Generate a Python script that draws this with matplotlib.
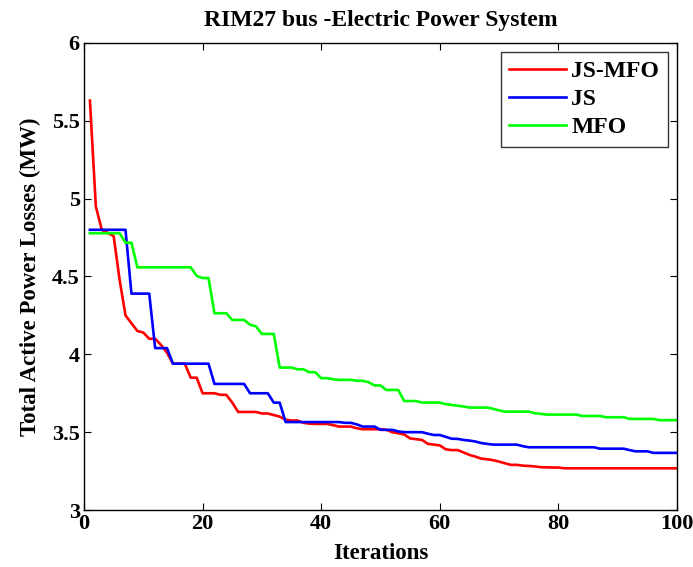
import numpy as np
import matplotlib
matplotlib.use("Agg")
import matplotlib.pyplot as plt

plt.rcParams["font.family"] = ["Liberation Serif", "DejaVu Serif"]
plt.rcParams["font.weight"] = "bold"

iters = np.arange(1, 101)

js_mfo = [5.63, 4.95, 4.80, 4.78, 4.76, 4.48, 4.25, 4.20, 4.15, 4.14,
          4.10, 4.10, 4.06, 4.01, 3.94, 3.94, 3.94, 3.85, 3.85, 3.75,
          3.75, 3.75, 3.74, 3.74, 3.69, 3.63, 3.63, 3.63, 3.63, 3.62,
          3.62, 3.61, 3.60, 3.58, 3.575, 3.575, 3.56, 3.555, 3.553, 3.553,
          3.553, 3.545, 3.536, 3.536, 3.536, 3.525, 3.519, 3.519, 3.519, 3.518,
          3.515, 3.50, 3.493, 3.485, 3.46, 3.455, 3.45, 3.425, 3.42, 3.415,
          3.39, 3.385, 3.385, 3.37, 3.354, 3.343, 3.33, 3.326, 3.32, 3.311,
          3.30, 3.29, 3.29, 3.285, 3.283, 3.28, 3.275, 3.274, 3.273, 3.273,
          3.268, 3.268, 3.268, 3.268, 3.268, 3.268, 3.268, 3.268, 3.268, 3.268,
          3.268, 3.268, 3.268, 3.268, 3.268, 3.268, 3.268, 3.268, 3.268, 3.268]

js = [4.80, 4.80, 4.80, 4.80, 4.80, 4.80, 4.80, 4.39, 4.39, 4.39,
      4.39, 4.04, 4.04, 4.04, 3.94, 3.94, 3.94, 3.94, 3.94, 3.94,
      3.94, 3.81, 3.81, 3.81, 3.81, 3.81, 3.81, 3.75, 3.75, 3.75,
      3.75, 3.69, 3.69, 3.565, 3.565, 3.565, 3.565, 3.565, 3.565, 3.565,
      3.565, 3.565, 3.565, 3.56, 3.56, 3.55, 3.536, 3.536, 3.536, 3.515,
      3.515, 3.515, 3.505, 3.50, 3.50, 3.50, 3.50, 3.49, 3.482, 3.482,
      3.47, 3.458, 3.457, 3.45, 3.446, 3.44, 3.43, 3.425, 3.42, 3.42,
      3.42, 3.42, 3.42, 3.41, 3.403, 3.403, 3.403, 3.403, 3.403, 3.403,
      3.403, 3.403, 3.403, 3.403, 3.403, 3.403, 3.394, 3.394, 3.394, 3.394,
      3.394, 3.385, 3.377, 3.377, 3.377, 3.367, 3.367, 3.367, 3.367, 3.367]

mfo = [4.778, 4.778, 4.778, 4.778, 4.778, 4.778, 4.717, 4.717, 4.559, 4.559,
       4.559, 4.559, 4.559, 4.559, 4.559, 4.559, 4.559, 4.559, 4.504, 4.49,
       4.49, 4.264, 4.264, 4.264, 4.221, 4.221, 4.221, 4.19, 4.18, 4.131,
       4.131, 4.131, 3.915, 3.915, 3.915, 3.904, 3.904, 3.885, 3.885, 3.847,
       3.847, 3.84, 3.836, 3.836, 3.836, 3.83, 3.83, 3.821, 3.80, 3.80,
       3.771, 3.771, 3.771, 3.70, 3.70, 3.70, 3.69, 3.69, 3.69, 3.69,
       3.68, 3.675, 3.67, 3.665, 3.658, 3.658, 3.658, 3.658, 3.65, 3.64,
       3.632, 3.632, 3.632, 3.632, 3.632, 3.622, 3.618, 3.613, 3.613, 3.613,
       3.613, 3.613, 3.613, 3.604, 3.604, 3.604, 3.604, 3.596, 3.596, 3.596,
       3.596, 3.585, 3.585, 3.585, 3.585, 3.585, 3.577, 3.577, 3.577, 3.577]

series = [("JS-MFO", js_mfo, "#ff0000"), ("JS", js, "#0000ff"), ("MFO", mfo, "#00ff00")]

fig = plt.figure(figsize=(6.93, 5.67), dpi=100)
ax = fig.add_axes([0.1212, 0.1005, 0.8557, 0.8237])

for name, vals, col in series:
    ax.plot(iters, vals, color=col, lw=1.9, label=name)

ax.set_xlim(0, 100)
ax.set_ylim(3, 6)
ax.set_xticks(np.arange(0, 101, 20))
ax.set_yticks(np.arange(3, 6.01, 0.5))
ax.set_yticklabels(["3", "3.5", "4", "4.5", "5", "5.5", "6"])
ax.tick_params(direction="in", top=True, right=True, length=5, width=0.8,
               labelsize=16, pad=3)
for s in ax.spines.values():
    s.set_linewidth(1.0)

ax.set_title("RIM27 bus -Electric Power System", fontsize=17, fontweight="bold", pad=12)
ax.set_xlabel("Iterations", fontsize=16.5, fontweight="bold", labelpad=6)
ax.set_ylabel("Total Active Power Losses (MW)", fontsize=16.5, fontweight="bold", labelpad=8)

leg = ax.legend(loc="upper right", fontsize=17, frameon=True, fancybox=False,
                edgecolor="black", handlelength=2.4, handletextpad=0.25,
                labelspacing=0.28, borderaxespad=0.4, borderpad=0.35)
leg.get_frame().set_linewidth(1.0)

fig.savefig("out.png", dpi=100)
